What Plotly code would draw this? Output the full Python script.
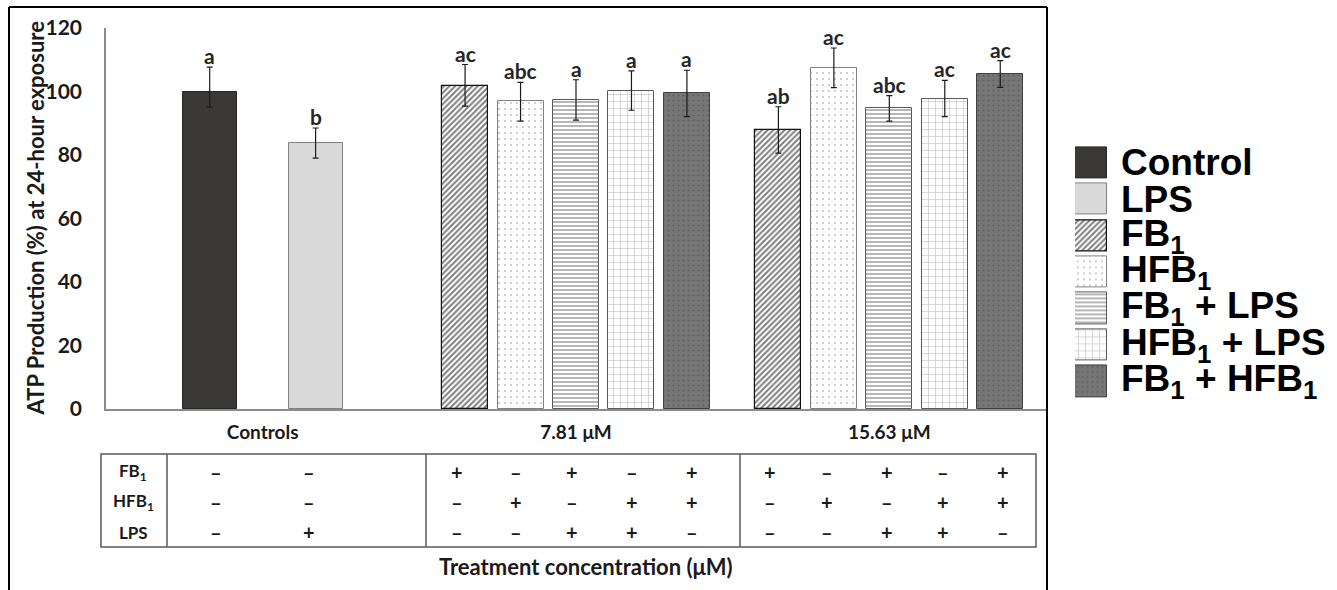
import plotly.graph_objects as go

# ---------------- data ----------------
groups = ["Controls", "7.81 μM", "15.63 μM"]
series = ["Control", "LPS", "FB1", "HFB1", "FB1 + LPS", "HFB1 + LPS", "FB1 + HFB1"]
legend_labels = ["Control", "LPS", "FB<sub>1</sub>", "HFB<sub>1</sub>", "FB<sub>1</sub> + LPS",
                 "HFB<sub>1</sub> + LPS", "FB<sub>1</sub> + HFB<sub>1</sub>"]

# which group each series appears in
series_groups = [[0], [0], [1, 2], [1, 2], [1, 2], [1, 2], [1, 2]]

atp_control = [100.0]
atp_lps = [83.9]
atp_fb1 = [101.8, 87.8]
atp_hfb1 = [96.9, 107.5]
atp_fb1_lps = [97.3, 94.8]
atp_hfb1_lps = [100.1, 97.7]
atp_fb1_hfb1 = [99.6, 105.5]

err_up_control = [7.7]
err_dn_control = [4.9]
err_up_lps = [4.6]
err_dn_lps = [4.9]
err_up_fb1 = [6.7, 7.4]
err_dn_fb1 = [6.4, 7.2]
err_up_hfb1 = [6.0, 6.2]
err_dn_hfb1 = [6.2, 6.3]
err_up_fb1_lps = [6.4, 3.9]
err_dn_fb1_lps = [6.3, 4.1]
err_up_hfb1_lps = [6.4, 5.8]
err_dn_hfb1_lps = [6.0, 5.6]
err_up_fb1_hfb1 = [7.1, 4.2]
err_dn_fb1_hfb1 = [7.5, 4.2]

letters_control = ["a"]
letters_lps = ["b"]
letters_fb1 = ["ac", "ab"]
letters_hfb1 = ["abc", "ac"]
letters_fb1_lps = ["a", "abc"]
letters_hfb1_lps = ["a", "ac"]
letters_fb1_hfb1 = ["a", "ac"]

values = [atp_control, atp_lps, atp_fb1, atp_hfb1, atp_fb1_lps, atp_hfb1_lps, atp_fb1_hfb1]
err_up = [err_up_control, err_up_lps, err_up_fb1, err_up_hfb1, err_up_fb1_lps, err_up_hfb1_lps, err_up_fb1_hfb1]
err_dn = [err_dn_control, err_dn_lps, err_dn_fb1, err_dn_hfb1, err_dn_fb1_lps, err_dn_hfb1_lps, err_dn_fb1_hfb1]
letters = [letters_control, letters_lps, letters_fb1, letters_hfb1, letters_fb1_lps, letters_hfb1_lps, letters_fb1_hfb1]

y_ticks = [0, 20, 40, 60, 80, 100, 120]

table_rows = ["FB<sub>1</sub>", "HFB<sub>1</sub>", "LPS"]
sign_fb1 = ["–", "–", "+", "–", "+", "–", "+", "+", "–", "+", "–", "+"]
sign_hfb1 = ["–", "–", "–", "+", "–", "+", "+", "–", "+", "–", "+", "+"]
sign_lps = ["–", "+", "–", "–", "+", "+", "–", "–", "–", "+", "+", "–"]
table_signs = [sign_fb1, sign_hfb1, sign_lps]

x_title = "Treatment concentration (μM)"
y_title = "ATP Production (%) at 24-hour exposure"

# ---------------- styles ----------------
styles = [
    dict(color="#3b3838", line=dict(color="#262626", width=1)),
    dict(color="#d9d9d9", line=dict(color="#808080", width=1)),
    dict(color="#ffffff", line=dict(color="#111111", width=1.2),
         pattern=dict(shape="/", fgcolor="#000000", size=4, solidity=0.5, fillmode="overlay")),
    dict(color="#ffffff", line=dict(color="#808080", width=1),
         pattern=dict(shape=".", fgcolor="#7a7a7a", size=6, solidity=0.08, fillmode="overlay")),
    dict(color="#ffffff", line=dict(color="#5a5a5a", width=1),
         pattern=dict(shape="-", fgcolor="#6e6e6e", size=4, solidity=0.5, fillmode="overlay")),
    dict(color="#ffffff", line=dict(color="#5a5a5a", width=1),
         pattern=dict(shape="+", fgcolor="#6a6a6a", size=7, solidity=0.14, fillmode="overlay")),
    dict(color="#767676", line=dict(color="#404040", width=1),
         pattern=dict(shape=".", fgcolor="#4a4a4a", size=5, solidity=0.15, fillmode="overlay")),
]

W, H = 1337, 590
def fx(x):
    return x / W
def fy(y):
    return 1 - y / H

FONT = "Lato"
CTRL_STEP, CTRL_W = 0.169, 0.172
TRT_STEP, TRT_W = 0.177, 0.147

fig = go.Figure()

for i, name in enumerate(series):
    gs = series_groups[i]
    if i < 2:
        xs = [g + (2 * i - 1) * CTRL_STEP for g in gs]
        w = CTRL_W
    else:
        xs = [g + (i - 4) * TRT_STEP for g in gs]
        w = TRT_W
    fig.add_trace(go.Bar(
        x=xs, y=values[i], width=w, name=name, showlegend=False,
        marker=styles[i],
        error_y=dict(type="data", symmetric=False, array=err_up[i], arrayminus=err_dn[i],
                     color="#1a1a1a", thickness=1.2, width=3),
    ))
    for xv, v, e, lab in zip(xs, values[i], err_up[i], letters[i]):
        fig.add_annotation(x=xv, y=v + e, xref="x", yref="y", text=lab, showarrow=False,
                           xanchor="center", yanchor="bottom", yshift=-3,
                           font=dict(family=FONT, size=21, color="#262626", weight="bold"))

# legend swatches on a hidden axis pair
for i, name in enumerate(series):
    fig.add_trace(go.Bar(
        x=[1], y=[i], orientation="h", width=0.855, xaxis="x2", yaxis="y2",
        showlegend=False, marker=styles[i], hoverinfo="skip",
    ))
    fig.add_annotation(x=fx(1119), xref="paper", y=i, yref="y2", text=legend_labels[i],
                       showarrow=False, xanchor="left", yanchor="middle",
                       font=dict(family="Liberation Sans", size=37, color="#000000", weight="bold"))

# y-axis title
fig.add_annotation(x=fx(35), y=fy(218.5), xref="paper", yref="paper", text=y_title,
                   textangle=-90, showarrow=False, xanchor="center", yanchor="middle",
                   font=dict(family=FONT, size=22, color="#1a1a1a", weight="bold"))

# table
TBL_L, TBL_R, TBL_T, TBL_B = 101, 1036, 454, 547
tbl_line = dict(color="#5a5a5a", width=1.5)
fig.add_shape(type="rect", xref="paper", yref="paper", x0=fx(TBL_L), x1=fx(TBL_R),
              y0=fy(TBL_B), y1=fy(TBL_T), line=tbl_line)
for xv in [167, 426, 740]:
    fig.add_shape(type="line", xref="paper", yref="paper", x0=fx(xv), x1=fx(xv),
                  y0=fy(TBL_B), y1=fy(TBL_T), line=tbl_line)
row_y = [472, 502, 532]
col_x = [216, 309, 457, 516, 572, 632, 692, 770, 827, 887, 943, 1003]
for r, lab in enumerate(table_rows):
    fig.add_annotation(x=fx(133), y=fy(row_y[r]), xref="paper", yref="paper", text=lab,
                       showarrow=False, xanchor="center", yanchor="middle",
                       font=dict(family=FONT, size=17, color="#1a1a1a", weight="bold"))
    for c, s in enumerate(table_signs[r]):
        fig.add_annotation(x=fx(col_x[c]), y=fy(row_y[r]), xref="paper", yref="paper", text=s,
                           showarrow=False, xanchor="center", yanchor="middle",
                           font=dict(family=FONT, size=20, color="#1a1a1a", weight="bold"))

fig.add_annotation(x=fx(586), y=fy(566), xref="paper", yref="paper", text=x_title,
                   showarrow=False, xanchor="center", yanchor="middle",
                   font=dict(family=FONT, size=22, color="#1a1a1a", weight="bold"))

# outer frame (bottom edge lies below the picture)
frame = dict(color="#000000", width=2)
fig.add_shape(type="line", xref="paper", yref="paper", x0=fx(9), x1=fx(1047), y0=fy(7), y1=fy(7), line=frame)
fig.add_shape(type="line", xref="paper", yref="paper", x0=fx(9), x1=fx(9), y0=fy(7), y1=0, line=frame)
fig.add_shape(type="line", xref="paper", yref="paper", x0=fx(1047), x1=fx(1047), y0=fy(7), y1=0, line=frame)

fig.update_layout(
    width=W, height=H, margin=dict(l=0, r=0, t=0, b=0, pad=0, autoexpand=False),
    paper_bgcolor="white", plot_bgcolor="white",
    barmode="overlay", bargap=0,
    xaxis=dict(domain=[fx(106), fx(1046)], range=[-0.5, 2.5], tickvals=[0, 1, 2], ticktext=groups,
               showline=True, linecolor="#8c8c8c", linewidth=1.5, showgrid=False, zeroline=False,
               ticks="", ticklabelstandoff=5, automargin=False,
               tickfont=dict(family=FONT, size=19, color="#1a1a1a", weight="bold")),
    yaxis=dict(domain=[fy(409), fy(28)], range=[0, 120], tickvals=y_ticks,
               showline=True, linecolor="#8c8c8c", linewidth=1.5, showgrid=False, zeroline=False,
               ticks="", ticklabelstandoff=18, automargin=False,
               tickfont=dict(family=FONT, size=21, color="#1a1a1a", weight="bold")),
    xaxis2=dict(domain=[fx(1075), fx(1107)], range=[0, 1], visible=False, anchor="y2"),
    yaxis2=dict(domain=[fy(399.6), fy(144.4)], range=[6.5, -0.5], visible=False, anchor="x2"),
)

fig.write_html("out.html")
